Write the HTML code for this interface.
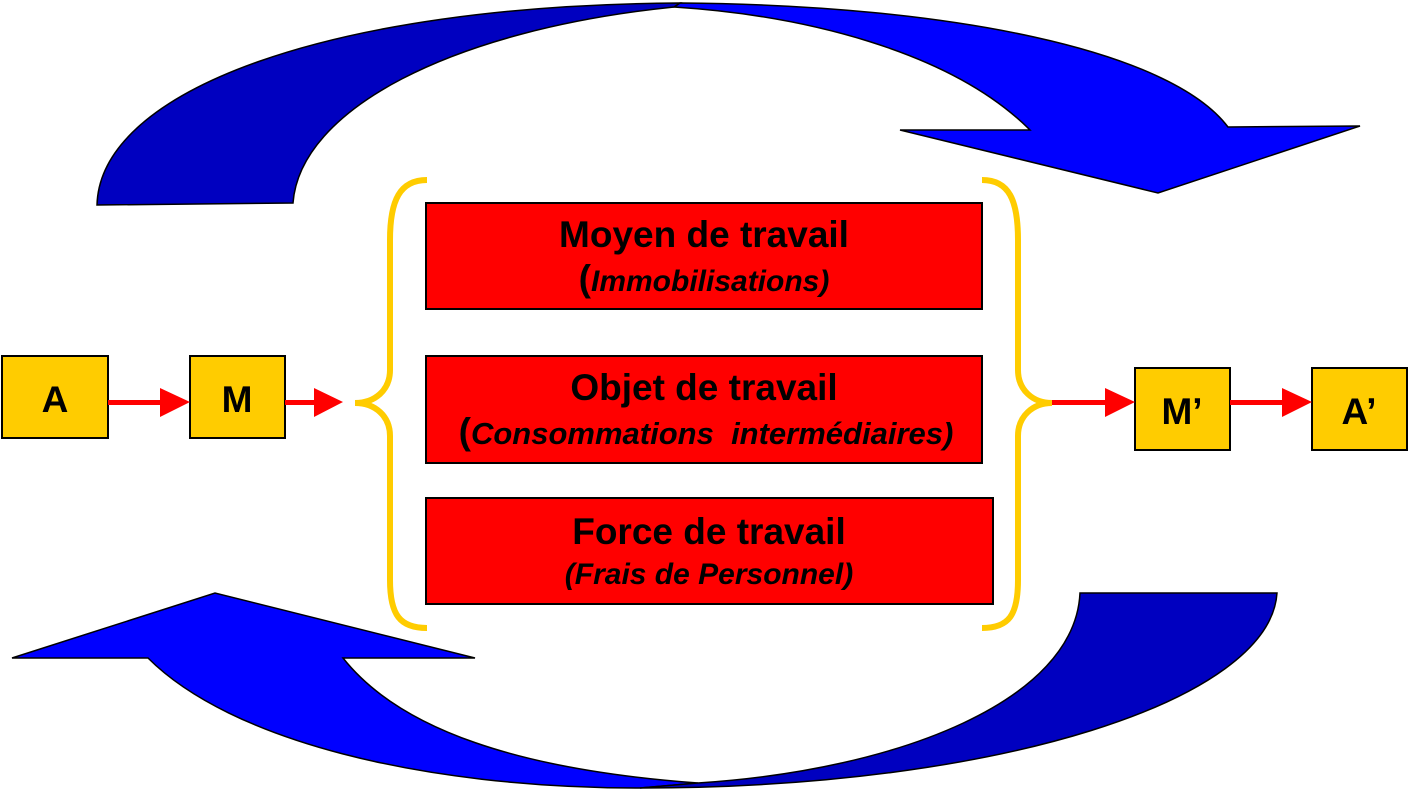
<!DOCTYPE html>
<html><head><meta charset="utf-8"><style>
html,body{margin:0;padding:0;background:#fff;}
svg{display:block;}
text{font-family:"Liberation Sans",Arial,sans-serif;font-weight:bold;fill:#000;}
</style></head><body>
<svg width="1408" height="790" viewBox="0 0 1408 790" xmlns="http://www.w3.org/2000/svg">
<!-- top arrow -->
<path d="M674,7 L680,3 C950,5 1170,50 1228,127 L1360,126 L1158,193 L900,130 L1030,130 C950,50 800,15 674,7 Z" fill="#0000ff" stroke="#000" stroke-width="1.5"/>
<path d="M97,205 C100,90 330,5 680,3 L674,7 C450,30 300,110 293,203 Z" fill="#0000c0" stroke="#000" stroke-width="1.5"/>
<!-- bottom arrow -->
<path d="M698,783 C520,770 400,730 343,658 L475,658 L215,593 L12,658 L148,658 C230,740 420,788 640,788 Z" fill="#0000ff" stroke="#000" stroke-width="1.5"/>
<path d="M1277,593 C1270,700 1000,788 640,788 L698,783 C900,770 1075,700 1080,593 Z" fill="#0000c0" stroke="#000" stroke-width="1.5"/>
<!-- braces -->
<path d="M427,180 C400,180 390,200 390,240 L390,370 C390,390 375,403 355,403 C375,403 390,416 390,436 L390,580 C390,615 400,628 427,628" fill="none" stroke="#ffcc00" stroke-width="6"/>
<path d="M982,180 C1009,180 1018,200 1018,240 L1018,370 C1018,390 1033,403 1052,403 C1033,403 1018,416 1018,436 L1018,580 C1018,615 1009,628 982,628" fill="none" stroke="#ffcc00" stroke-width="6"/>
<!-- red boxes -->
<rect x="426" y="203" width="556" height="106" fill="#ff0000" stroke="#000" stroke-width="2"/>
<rect x="426" y="356" width="556" height="107" fill="#ff0000" stroke="#000" stroke-width="2"/>
<rect x="426" y="498" width="567" height="106" fill="#ff0000" stroke="#000" stroke-width="2"/>
<text x="704" y="247" font-size="37" text-anchor="middle">Moyen de travail</text>
<text x="704" y="291" font-size="30" text-anchor="middle" font-style="italic"><tspan font-style="normal" font-size="37">(</tspan>Immobilisations)</text>
<text x="704" y="400" font-size="37" text-anchor="middle">Objet de travail</text>
<text x="706" y="444" font-size="31" text-anchor="middle" font-style="italic" xml:space="preserve"><tspan font-style="normal" font-size="37">(</tspan>Consommations  intermédiaires)</text>
<text x="709" y="544" font-size="37" text-anchor="middle">Force de travail</text>
<text x="709" y="584" font-size="30" text-anchor="middle" font-style="italic">(Frais de Personnel)</text>
<!-- yellow boxes -->
<rect x="2" y="356" width="106" height="82" fill="#ffcc00" stroke="#000" stroke-width="2"/>
<rect x="190" y="356" width="95" height="82" fill="#ffcc00" stroke="#000" stroke-width="2"/>
<rect x="1135" y="368" width="95" height="82" fill="#ffcc00" stroke="#000" stroke-width="2"/>
<rect x="1312" y="368" width="95" height="82" fill="#ffcc00" stroke="#000" stroke-width="2"/>
<text x="55" y="412" font-size="37" text-anchor="middle">A</text>
<text x="237" y="412" font-size="37" text-anchor="middle">M</text>
<text x="1182" y="424" font-size="37" text-anchor="middle">M’</text>
<text x="1359" y="424" font-size="37" text-anchor="middle">A’</text>
<!-- red arrows -->
<g fill="#ff0000" stroke="none">
<rect x="108" y="400" width="54" height="5"/><polygon points="160,388 190,402 160,417"/>
<rect x="285" y="400" width="31" height="5"/><polygon points="314,388 343,402 314,417"/>
<rect x="1052" y="400" width="55" height="5"/><polygon points="1105,388 1135,402 1105,417"/>
<rect x="1230" y="400" width="54" height="5"/><polygon points="1282,388 1312,402 1282,417"/>
</g>
</svg>
</body></html>
